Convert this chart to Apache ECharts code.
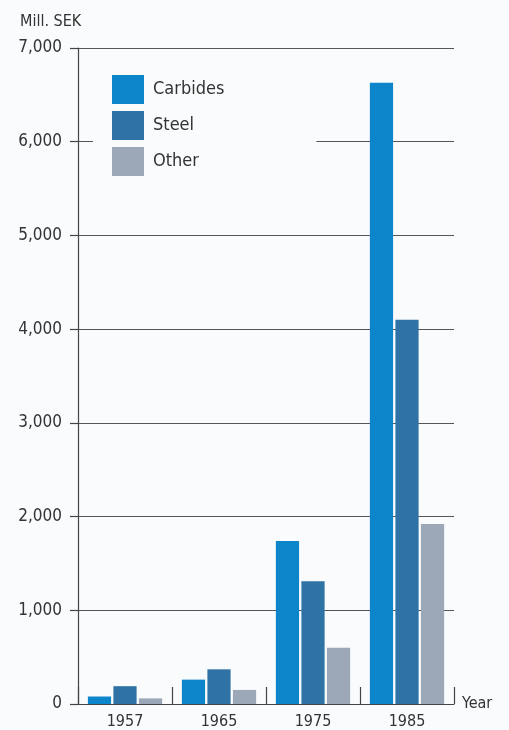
<!DOCTYPE html>
<html>
<head>
<meta charset="utf-8">
<script src="https://cdn.jsdelivr.net/npm/echarts@6/dist/echarts.min.js"></script>
<style>
html,body{margin:0;padding:0;background:#f9fbfc;}
#c{width:509px;height:730px;}
</style>
</head>
<body>
<div id="c"></div>
<script>
var years = ['1957', '1965', '1975', '1985'];
var carbides = [80, 260, 1740, 6630];
var steel = [190, 370, 1310, 4100];
var other = [60, 150, 600, 1920];
var yTicks = { min: 0, max: 7000, interval: 1000 };

var font = '"DejaVu Sans Condensed", "DejaVu Sans", sans-serif';
var textColor = '#333333';

var chart = echarts.init(document.getElementById('c'));
chart.setOption({
  backgroundColor: '#f9fbfc',
  animation: false,
  title: {
    text: 'Mill. SEK',
    left: 15, top: 9,
    textStyle: { fontFamily: font, fontSize: 16, fontWeight: 'normal', color: textColor }
  },
  legend: {
    orient: 'vertical',
    left: 93, top: 75,
    padding: [0, 92, 2, 19],
    backgroundColor: '#f9fbfc',
    itemWidth: 32, itemHeight: 29, itemGap: 7,
    icon: 'rect',
    textStyle: { fontFamily: font, fontSize: 18, color: textColor, padding: [0, 0, 0, 4] },
    data: ['Carbides', 'Steel', 'Other']
  },
  grid: { left: 78, right: 55, top: 48, bottom: 25 },
  xAxis: {
    type: 'category',
    data: years,
    boundaryGap: true,
    name: 'Year',
    nameLocation: 'end',
    nameGap: 8,
    nameTextStyle: { fontFamily: font, fontSize: 16, color: textColor },
    axisLine: { lineStyle: { color: '#444', width: 1.2 } },
    axisTick: { show: true, inside: true, length: 17, lineStyle: { color: '#444', width: 1.2 } },
    axisLabel: { fontFamily: font, fontSize: 16, color: textColor, margin: 10 }
  },
  yAxis: {
    type: 'value',
    min: yTicks.min, max: yTicks.max, interval: yTicks.interval,
    axisLine: { show: true, lineStyle: { color: '#444', width: 1.2 } },
    axisTick: { show: true, length: 8, lineStyle: { color: '#444', width: 1.2 } },
    axisLabel: {
      fontFamily: font, fontSize: 17, color: textColor, margin: 16,
      formatter: function (v) { return v.toLocaleString('en-US'); }
    },
    splitLine: { show: true, lineStyle: { color: '#555', width: 1.2 } }
  },
  series: [
    { name: 'Carbides', type: 'bar', data: carbides, barGap: '10%', barCategoryGap: '21%',
      itemStyle: { color: '#0d85cb' } },
    { name: 'Steel', type: 'bar', data: steel, barGap: '10%', barCategoryGap: '21%',
      itemStyle: { color: '#2f72a6' } },
    { name: 'Other', type: 'bar', data: other, barGap: '10%', barCategoryGap: '21%',
      itemStyle: { color: '#9ca8b8' } }
  ]
});
</script>
</body>
</html>
